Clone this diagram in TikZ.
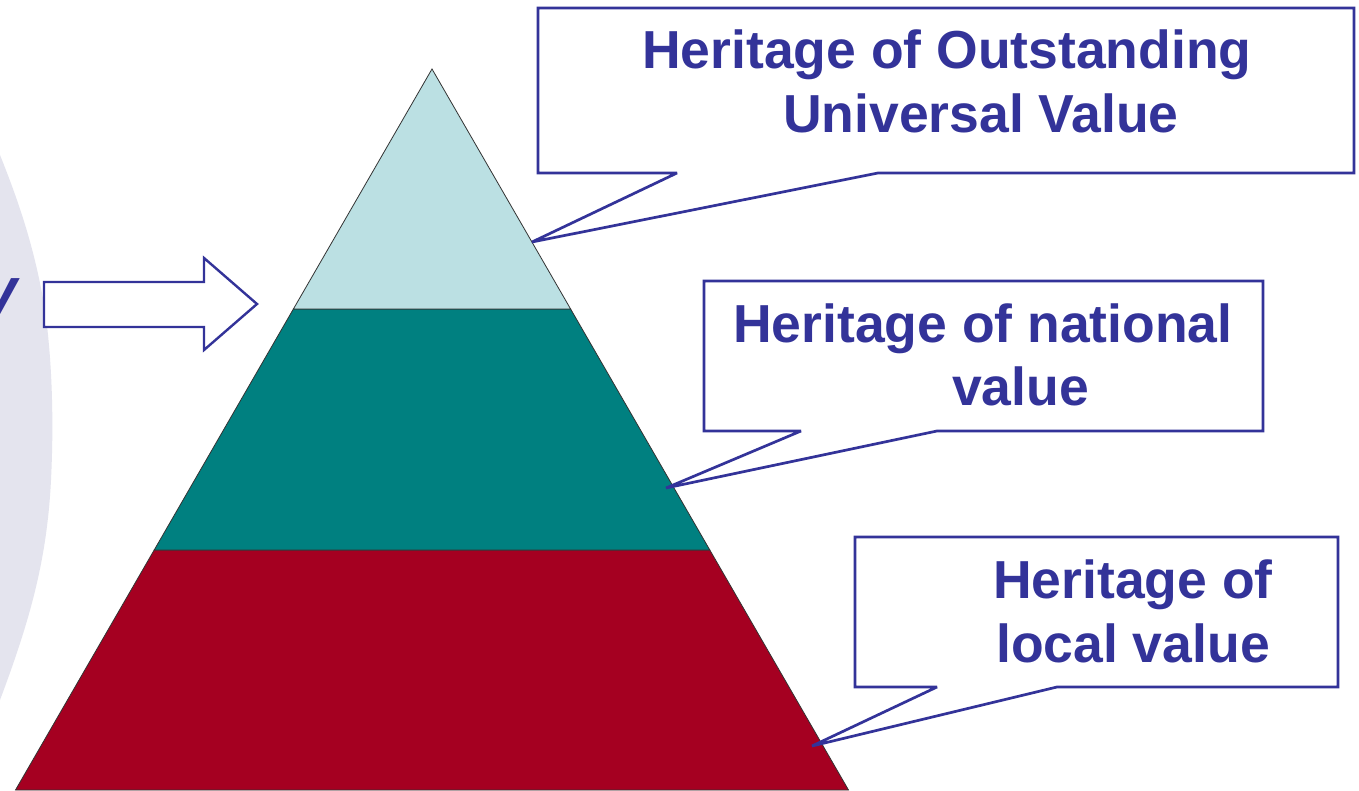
\documentclass[tikz,border=0pt]{standalone}
\usepackage{fontspec}
\setmainfont{Liberation Sans}
\definecolor{txtblue}{HTML}{333399}
\definecolor{bgray}{HTML}{E4E4EE}
\definecolor{toplight}{HTML}{BBE0E3}
\definecolor{midteal}{HTML}{008080}
\definecolor{botred}{HTML}{A50021}
\begin{document}
\begin{tikzpicture}[x=1pt,y=-1pt,
  band/.style={draw=black!80,line width=0.8pt,line join=miter},
  callout/.style={draw=txtblue,fill=white,line width=2.7pt,line join=miter,miter limit=4},
  lbl/.style={anchor=base west,inner sep=0pt,text=txtblue,font=\fontsize{53.5}{64}\selectfont\bfseries},
  blockarrow/.style={draw=txtblue,fill=white,line width=2.4pt,line join=miter}]
\useasboundingbox (0,0) rectangle (1359,791);
\fill[white] (0,0) rectangle (1359,791);
% background grey shape
\fill[bgray] (-10,140) -- (0,155) .. controls (20,205) and (35,250) .. (45,310)
  .. controls (52,360) and (54,420) .. (51,480)
  .. controls (47,560) and (30,620) .. (0,700) -- (-10,720) -- cycle;
% partial letter
\node[anchor=base east,inner sep=0pt,text=txtblue,font=\fontsize{58}{60}\selectfont\bfseries\itshape] (partv) at (16,319) {V};
% block arrow
\draw[blockarrow] (44,282) -- (204,282) -- (204,258) -- (257,304) -- (204,350) -- (204,327) -- (44,327) -- cycle;
% pyramid
\coordinate (apex) at (432,69);
\coordinate (l1) at (293.4,309);
\coordinate (r1) at (570.6,309);
\coordinate (l2) at (154.2,550);
\coordinate (r2) at (709.8,550);
\coordinate (l3) at (15.5,790);
\coordinate (r3) at (848.5,790);
\draw[band,fill=botred] (l2) -- (r2) -- (r3) -- (l3) -- cycle;
\draw[band,fill=midteal] (l1) -- (r1) -- (r2) -- (l2) -- cycle;
\draw[band,fill=toplight] (apex) -- (r1) -- (l1) -- cycle;
% callouts
\draw[callout] (538,8) -- (1354,8) -- (1354,173) -- (878,173) -- (532,242) -- (677,173) -- (538,173) -- cycle;
\draw[callout] (704,281) -- (1263,281) -- (1263,431) -- (937,431) -- (666,488) -- (801,431) -- (704,431) -- cycle;
\draw[callout] (855,537) -- (1338,537) -- (1338,687) -- (1057,687) -- (812,746) -- (937,687) -- (855,687) -- cycle;
% labels
\node[lbl] (t1a) at (642,69) {Heritage of Outstanding};
\node[lbl] (t1b) at (783,133) {Universal Value};
\node[lbl] (t2a) at (733,342) {Heritage of national};
\node[lbl] (t2b) at (952,405) {value};
\node[lbl] (t3a) at (993,598) {Heritage of};
\node[lbl] (t3b) at (996,662) {local value};
\end{tikzpicture}
\end{document}
